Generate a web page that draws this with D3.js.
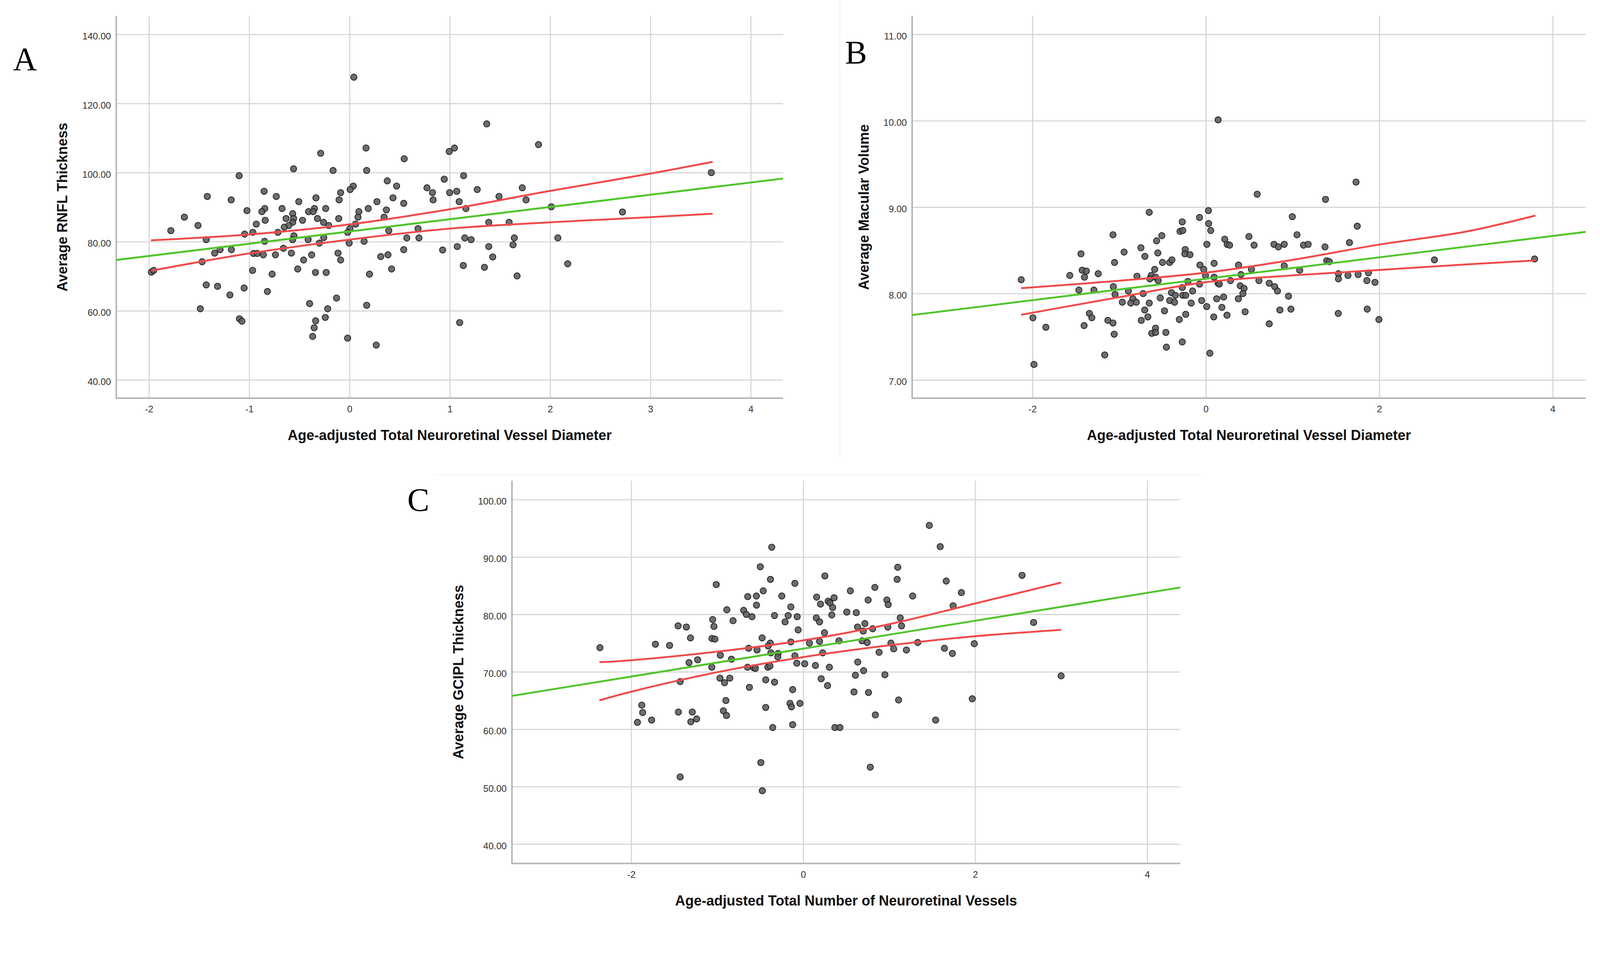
<!DOCTYPE html>
<html><head><meta charset="utf-8">
<script src="https://cdn.jsdelivr.net/npm/d3@7"></script>
<style>html,body{margin:0;padding:0;background:#fff;width:100%;height:100%;overflow:hidden;} svg{display:block;width:100vw;height:100vh}</style>
</head><body>
<svg id="chart" viewBox="0 0 4266 2441" preserveAspectRatio="xMinYMin meet"></svg>
<script>
// ---------- DATA ----------
// Panel A: x = Age-adjusted Total Neuroretinal Vessel Diameter, y = Average RNFL Thickness
const pointsA = [
[0.043,127.6],[0.164,107.1],[-0.288,105.6],[0.545,104.0],[-0.558,101.1],[-0.164,100.6],[0.171,100.6],[-1.101,99.1],[0.376,97.6],[0.037,96.1],[0.006,95.1],[0.469,96.1],[0.772,95.6],[-0.852,94.6],[-0.089,94.2],[-1.418,93.1],[-0.731,93.1],[-0.335,92.7],[-1.180,92.1],[-0.104,92.1],[-0.506,91.6],[0.273,91.6],[0.433,92.7],[0.540,91.1],[-0.845,89.6],[-0.874,88.7],[-1.023,89.0],[-0.673,89.6],[-0.350,89.6],[-0.238,89.6],[-0.409,88.7],[-0.363,88.7],[0.186,89.6],[0.093,88.7],[0.367,89.2],[-0.567,88.1],[0.344,87.1],[0.084,87.1],[-1.647,87.1],[-0.633,86.7],[-0.558,86.7],[-0.320,86.7],[-0.108,86.7],[-0.841,86.2],[-0.469,86.2],[-0.567,85.6],[-0.260,85.6],[-0.930,85.1],[0.060,85.1],[-0.606,84.7],[-0.208,84.7],[-1.511,84.7],[-0.651,84.2],[0.004,83.8],[0.683,83.8],[-1.782,83.2],[0.391,83.2],[-1.046,82.2],[-0.964,82.7],[-0.714,82.7],[-0.019,82.7],[-0.555,81.7],[-0.257,81.2],[0.571,81.1],[0.692,81.1],[-1.429,80.6],[-0.847,80.1],[-0.567,80.6],[-0.413,80.6],[-0.301,79.6],[-0.004,79.6],[0.145,80.1],[-1.291,77.7],[-1.178,77.7],[-1.345,76.7],[-0.958,76.6],[-0.921,76.6],[-0.860,76.2],[-0.739,76.2],[-0.660,78.1],[-0.580,76.7],[-0.378,76.2],[-0.115,76.7],[-0.089,74.7],[-0.458,74.7],[0.540,77.7],[0.311,75.7],[0.383,76.2],[-1.470,74.2],[-0.517,72.1],[0.419,72.1],[-1.976,71.2],[-1.953,71.7],[-0.967,71.7],[-0.772,70.6],[-0.340,71.1],[-0.233,71.1],[0.199,70.6],[-1.429,67.5],[-1.316,67.1],[-1.051,66.6],[-0.819,65.6],[-1.193,64.6],[-0.130,63.7],[-0.398,62.1],[0.171,61.6],[-1.488,60.6],[-0.218,60.6],[-0.242,58.1],[-1.098,57.7],[-1.073,57.0],[-0.338,57.1],[-0.353,55.1],[-0.368,52.6],[-0.019,52.1],[0.266,50.1],
[1.368,114.1],[0.994,106.1],[1.046,107.1],[1.884,108.1],[1.137,99.1],[0.944,98.1],[0.827,94.2],[0.833,92.1],[0.998,94.2],[1.069,94.6],[1.273,95.1],[1.722,95.6],[1.490,93.1],[1.093,91.6],[1.760,92.1],[1.160,89.6],[2.012,90.1],[2.721,88.6],[1.388,85.6],[1.591,85.6],[1.149,81.1],[1.212,80.6],[1.643,81.1],[2.077,81.1],[1.074,78.6],[1.388,78.6],[1.630,79.1],[0.928,77.6],[1.427,75.6],[1.134,73.1],[1.345,72.6],[2.175,73.6],[1.670,70.1],[1.098,56.6],[3.607,100.0]
];
const xTicksA = [-2, -1, 0, 1, 2, 3, 4];
const yTicksA = [40, 60, 80, 100, 120, 140];
const fitXA = [-2.33, 4.33];
const fitYA = [74.7, 98.3];
const ciXA = [-1.98, -1, 0, 1, 2, 3, 3.62];
const ciUpA = [80.4, 82.1, 85.0, 89.4, 94.7, 99.7, 103.1];
const ciLoA = [71.6, 76.6, 80.6, 83.8, 85.6, 87.1, 88.1];

// Panel B: x = Age-adjusted Total Neuroretinal Vessel Diameter, y = Average Macular Volume
const pointsB = [
[0.141,10.01],[0.592,9.15],[-0.653,8.94],[0.030,8.96],[-0.073,8.88],[-0.272,8.83],[0.032,8.81],[-0.298,8.72],[-0.266,8.73],[0.056,8.73],[-1.071,8.68],[-0.508,8.67],[-0.568,8.61],[0.218,8.63],[0.246,8.57],[0.274,8.56],[0.012,8.57],[0.497,8.66],[0.556,8.56],[0.786,8.57],[0.836,8.54],[-0.749,8.53],[-0.943,8.48],[-0.554,8.47],[-1.440,8.46],[-0.703,8.43],[-0.238,8.51],[-0.242,8.46],[-0.183,8.45],[-1.053,8.36],[-0.500,8.36],[-0.417,8.36],[-0.391,8.39],[0.095,8.35],[-0.068,8.33],[0.377,8.33],[-0.590,8.28],[-0.024,8.28],[0.526,8.28],[-1.426,8.27],[-1.378,8.26],[-1.569,8.21],[-1.241,8.23],[-1.400,8.19],[-2.129,8.16],[-0.794,8.20],[-0.630,8.21],[-0.580,8.19],[-0.645,8.17],[-0.550,8.15],[-0.004,8.21],[0.095,8.19],[0.405,8.22],[-0.207,8.14],[0.141,8.12],[0.155,8.11],[0.284,8.15],[0.612,8.15],[-0.073,8.11],[0.397,8.09],[0.441,8.06],[0.427,8.00],[0.375,7.94],[0.731,8.12],[0.794,8.08],[0.826,8.03],[-0.272,8.07],[-1.067,8.08],[-1.464,8.04],[-1.291,8.04],[-0.894,8.03],[-1.047,7.99],[-0.723,8.00],[-0.397,8.01],[-0.352,7.98],[-0.266,7.98],[-0.232,7.98],[-0.153,8.03],[-0.842,7.94],[-0.963,7.90],[-0.866,7.89],[-0.802,7.90],[-0.653,7.89],[-0.526,7.95],[-0.417,7.92],[-0.361,7.90],[-0.169,7.89],[-0.048,7.92],[0.010,7.85],[0.125,7.94],[0.205,7.96],[0.185,7.84],[-0.705,7.81],[-0.477,7.80],[-0.232,7.76],[-0.306,7.70],[0.091,7.73],[0.244,7.75],[0.453,7.79],[0.854,7.81],[-1.343,7.77],[-1.315,7.72],[-1.994,7.72],[-1.130,7.69],[-1.071,7.66],[-0.669,7.73],[-0.745,7.69],[-1.845,7.61],[-1.404,7.63],[0.731,7.65],[-1.057,7.53],[-0.580,7.60],[-0.624,7.54],[-0.580,7.55],[-0.461,7.55],[-0.272,7.44],[-0.455,7.38],[0.046,7.31],[-1.166,7.29],[-1.982,7.18],
[1.732,9.29],[1.380,9.09],[0.997,8.89],[1.746,8.78],[1.051,8.68],[0.904,8.57],[1.126,8.56],[1.180,8.57],[1.374,8.54],[1.656,8.59],[0.904,8.32],[1.394,8.38],[1.424,8.37],[2.636,8.39],[3.791,8.40],[1.082,8.27],[1.529,8.23],[1.529,8.17],[1.639,8.21],[1.756,8.22],[1.875,8.24],[1.857,8.15],[1.950,8.13],[0.953,7.97],[0.981,7.82],[1.527,7.77],[1.861,7.82],[1.996,7.70]
];
const xTicksB = [-2, 0, 2, 4];
const yTicksB = [7, 8, 9, 10, 11];
const fitXB = [-3.39, 4.39];
const fitYB = [7.751, 8.715];
const ciXB = [-2.13, -1, 0, 1, 2, 3, 3.8];
const ciUpB = [8.062, 8.148, 8.242, 8.39, 8.567, 8.717, 8.902];
const ciLoB = [7.755, 7.958, 8.132, 8.21, 8.273, 8.337, 8.383];

// Panel C: x = Age-adjusted Total Number of Neuroretinal Vessels, y = Average GCIPL Thickness
const pointsC = [
[-2.364,74.2],[-1.719,74.8],[-1.554,74.6],[-1.455,78.0],[-1.359,77.8],[-1.311,75.9],[-1.328,71.6],[-1.228,72.1],[-1.431,68.3],[-1.877,64.2],[-1.867,62.9],[-1.928,61.2],[-1.763,61.6],[-1.452,63.0],[-1.290,63.0],[-1.307,61.3],[-1.239,61.8],[-1.431,51.7],[-1.011,85.2],[-1.053,79.1],[-1.038,77.9],[-1.061,75.8],[-1.027,75.7],[-0.888,80.8],[-0.816,78.9],[-0.964,72.9],[-1.063,70.8],[-0.835,72.2],[-0.968,68.9],[-0.915,68.1],[-0.854,68.9],[-0.899,65.0],[-0.928,63.2],[-0.892,62.4],[-0.499,88.3],[-0.366,91.7],[-0.381,86.1],[-0.465,84.1],[-0.645,83.1],[-0.545,83.2],[-0.543,81.6],[-0.693,80.7],[-0.662,80.0],[-0.596,79.6],[-0.478,75.9],[-0.634,74.1],[-0.537,73.8],[-0.383,75.0],[-0.408,74.5],[-0.376,73.3],[-0.292,73.2],[-0.296,72.6],[-0.647,70.8],[-0.575,70.7],[-0.556,70.6],[-0.412,70.8],[-0.387,71.0],[-0.436,68.6],[-0.334,68.2],[-0.626,67.3],[-0.436,63.8],[-0.355,60.3],[-0.493,54.2],[-0.476,49.3],[-0.249,83.2],[-0.097,85.4],[-0.144,81.3],[-0.334,79.8],[-0.175,79.8],[-0.211,78.7],[-0.070,79.6],[-0.059,77.3],[-0.144,75.2],[-0.097,72.8],[-0.074,71.5],[0.017,71.4],[-0.123,66.9],[-0.154,64.5],[-0.137,63.9],[-0.038,64.5],[-0.123,60.8],[0.156,83.0],[0.252,86.7],[0.201,81.8],[0.290,82.3],[0.311,82.0],[0.359,82.9],[0.342,81.2],[0.332,79.9],[0.152,79.4],[0.190,78.7],[0.247,76.8],[0.072,75.0],[0.190,75.3],[0.416,75.4],[0.226,73.3],[0.142,71.1],[0.304,70.8],[0.209,68.8],[0.283,67.6],[0.368,60.3],[0.427,60.3],[0.548,84.1],[0.833,84.7],[0.755,82.5],[0.507,80.4],[0.617,80.3],[0.632,77.8],[0.717,78.4],[0.698,77.1],[0.808,77.5],[0.685,75.4],[0.744,75.1],[0.882,73.4],[0.634,71.7],[0.702,70.2],[0.607,69.4],[0.590,66.5],[0.759,66.4],[0.839,62.5],[0.780,53.4],
[1.466,95.5],[1.593,91.8],[1.099,88.2],[1.092,86.1],[1.663,85.8],[2.545,86.8],[1.839,83.8],[1.273,83.2],[0.973,82.5],[0.988,81.7],[1.743,81.5],[1.128,79.4],[1.143,78.0],[0.984,77.8],[2.679,78.6],[1.020,75.0],[1.052,74.0],[1.200,73.8],[1.332,75.1],[1.642,74.1],[1.735,73.2],[1.989,74.9],[0.950,69.5],[2.999,69.3],[1.109,65.1],[1.966,65.3],[1.540,61.6]
];
const xTicksC = [-2, 0, 2, 4];
const yTicksC = [40, 50, 60, 70, 80, 90, 100];
const fitXC = [-3.39, 4.39];
const fitYC = [65.8, 84.7];
const ciXC = [-2.37, -2, -1, 0, 1, 2, 3];
const ciUpC = [71.67, 72.02, 73.51, 75.47, 78.29, 81.90, 85.54];
const ciLoC = [65.02, 66.54, 69.93, 72.56, 74.61, 76.20, 77.31];

const panelLetters = ["A", "B", "C"];
const xTitles = ["Age-adjusted Total Neuroretinal Vessel Diameter",
                 "Age-adjusted Total Neuroretinal Vessel Diameter",
                 "Age-adjusted Total Number of Neuroretinal Vessels"];
const yTitles = ["Average RNFL Thickness", "Average Macular Volume", "Average GCIPL Thickness"];

// ---------- LAYOUT ----------
const panels = [
  {letter: panelLetters[0], pts: pointsA, xDom: [-2.326, 4.323], yDom: [34.73, 145.27],
   xTicks: xTicksA, yTicks: yTicksA, fitX: fitXA, fitY: fitYA, ciX: ciXA, ciUp: ciUpA, ciLo: ciLoA,
   xTitle: xTitles[0], yTitle: yTitles[0],
   box: {l: 310, r: 2088, t: 43, b: 1061}, letterPos: [35, 187], yTitleX: 166},
  {letter: panelLetters[1], pts: pointsB, xDom: [-3.387, 4.381], yDom: [6.79, 11.21],
   xTicks: xTicksB, yTicks: yTicksB, fitX: fitXB, fitY: fitYB, ciX: ciXB, ciUp: ciUpB, ciLo: ciLoB,
   xTitle: xTitles[1], yTitle: yTitles[1],
   box: {l: 2432, r: 4228, t: 43, b: 1061}, letterPos: [2253, 170], yTitleX: 2303},
  {letter: panelLetters[2], pts: pointsC, xDom: [-3.387, 4.385], yDom: [36.63, 103.28],
   xTicks: xTicksC, yTicks: yTicksC, fitX: fitXC, fitY: fitYC, ciX: ciXC, ciUp: ciUpC, ciLo: ciLoC,
   xTitle: xTitles[2], yTitle: yTitles[2],
   box: {l: 1365, r: 3147, t: 1281, b: 2301}, letterPos: [1086, 1362], yTitleX: 1222}
];

const SANS = "'Liberation Sans', Arial, sans-serif";
const SERIF = "'Liberation Serif', 'Times New Roman', serif";
const GRID = "#d6d6d6", AXIS = "#b3b3b3", RED = "#f04a4a", GREEN = "#4fc52b";

const svg = d3.select("#chart");
svg.append("rect").attr("width", 4266).attr("height", 2441).attr("fill", "#fff");

// faint panel borders from the source figure
svg.append("line").attr("x1", 2239).attr("x2", 2239).attr("y1", 0).attr("y2", 1220)
  .attr("stroke", "#efefef").attr("stroke-width", 2);
svg.append("line").attr("x1", 1161).attr("x2", 3200).attr("y1", 1265).attr("y2", 1265)
  .attr("stroke", "#efefef").attr("stroke-width", 2);

panels.forEach((p, i) => {
  const {l, r, t, b} = p.box;
  const x = d3.scaleLinear().domain(p.xDom).range([l, r]);
  const y = d3.scaleLinear().domain(p.yDom).range([b, t]);
  const g = svg.append("g");

  const clipId = "clip" + i;
  svg.append("clipPath").attr("id", clipId).append("rect")
    .attr("x", l).attr("y", t).attr("width", r - l).attr("height", b - t);

  // x axis with vertical gridlines
  const xa = d3.axisBottom(x).tickValues(p.xTicks).tickFormat(d => String(d))
    .tickSize(-(b - t)).tickSizeOuter(0).tickPadding(20);
  const gx = g.append("g").attr("transform", `translate(0,${b})`).call(xa);
  gx.select(".domain").remove();
  gx.selectAll(".tick line").attr("stroke", GRID).attr("stroke-width", 3);
  gx.selectAll(".tick text").attr("fill", "#333")
    .style("font-family", SANS).style("font-size", "25px");

  // y axis with horizontal gridlines
  const ya = d3.axisLeft(y).tickValues(p.yTicks).tickFormat(d3.format(".2f"))
    .tickSize(-(r - l)).tickSizeOuter(0).tickPadding(14);
  const gy = g.append("g").attr("transform", `translate(${l},0)`).call(ya);
  gy.select(".domain").remove();
  gy.selectAll(".tick line").attr("stroke", GRID).attr("stroke-width", 3);
  gy.selectAll(".tick text").attr("fill", "#333").attr("dy", "0.52em")
    .style("font-family", SANS).style("font-size", "25px");

  // axis lines (left and bottom)
  g.append("path")
    .attr("d", d3.line()([[l, t], [l, b], [r, b]]))
    .attr("fill", "none").attr("stroke", AXIS).attr("stroke-width", 4);

  // points
  g.append("g").selectAll("circle").data(p.pts).join("circle")
    .attr("cx", d => x(d[0])).attr("cy", d => y(d[1])).attr("r", 8.3)
    .attr("fill", "#5e5e5e").attr("fill-opacity", 0.9)
    .attr("stroke", "#1e1e1e").attr("stroke-width", 2);

  const lines = g.append("g").attr("clip-path", `url(#${clipId})`);
  // fit line
  const fitData = p.fitX.map((v, k) => [v, p.fitY[k]]);
  lines.append("path").datum(fitData)
    .attr("d", d3.line().x(d => x(d[0])).y(d => y(d[1])))
    .attr("fill", "none").attr("stroke", GREEN).attr("stroke-width", 5);
  // confidence curves
  const ciLine = d3.line().x(d => x(d[0])).y(d => y(d[1])).curve(d3.curveCatmullRom.alpha(0.5));
  [p.ciUp, p.ciLo].forEach(arr => {
    lines.append("path").datum(p.ciX.map((v, k) => [v, arr[k]]))
      .attr("d", ciLine)
      .attr("fill", "none").attr("stroke", RED).attr("stroke-width", 5);
  });

  // titles
  g.append("text").attr("x", (l + r) / 2).attr("y", b + 112)
    .attr("text-anchor", "middle").attr("fill", "#111")
    .style("font-family", SANS).style("font-size", "37.5px").style("font-weight", "bold")
    .text(p.xTitle);
  g.append("text")
    .attr("transform", `translate(${p.yTitleX},${(t + b) / 2}) rotate(-90)`)
    .attr("text-anchor", "middle").attr("dy", "0.36em").attr("fill", "#111")
    .style("font-family", SANS).style("font-size", "37.5px").style("font-weight", "bold")
    .text(p.yTitle);

  // panel letter
  g.append("text").attr("x", p.letterPos[0]).attr("y", p.letterPos[1])
    .attr("fill", "#000").style("font-family", SERIF).style("font-size", "88px")
    .text(p.letter);
});
</script>
</body></html>
